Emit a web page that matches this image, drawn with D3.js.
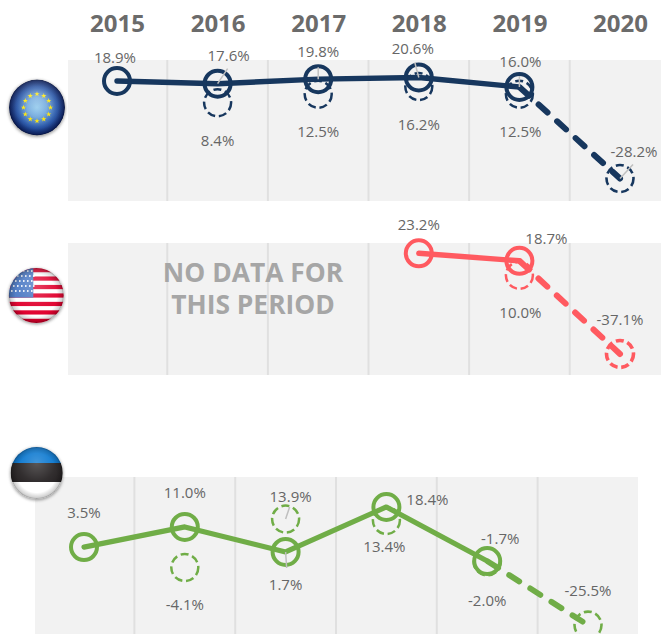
<!DOCTYPE html>
<html><head><meta charset="utf-8">
<script src="https://cdnjs.cloudflare.com/ajax/libs/d3/7.8.5/d3.min.js"></script>
<style>html,body{margin:0;padding:0;background:#fff;overflow:hidden}svg{display:block}text{font-family:"Open Sans",sans-serif}</style>
</head><body><svg id="c" width="661" height="634"></svg>
<script>
const years = ["2015","2016","2017","2018","2019","2020"];
const euActual = [18.9,17.6,19.8,20.6,16.0];
const euForecast = [null,8.4,12.5,16.2,12.5,-28.2];
const usActual = [null,null,null,23.2,18.7];
const usForecast = [null,null,null,null,10.0,-37.1];
const eeActual = [3.5,11.0,1.7,18.4,-1.7];
const eeForecast = [null,-4.1,13.9,13.4,-2.0,-25.5];
const noDataLines = ["NO DATA FOR","THIS PERIOD"];

// layout only: label offsets from each point [dx,dy], optional leader end [dx,dy]
const panels = [
 {actual:euActual,forecast:euForecast,color:"#17375e",sw:5.4,lastFw:2.6,left:68,right:661,top:60,bottom:201,x0:117,x1:620,domain:[-39.07,29.04],
  aLab:[[-2,-23],[11,-28],[0,-27],[-6,-28],[1,-25]],fLab:[null,[0,38],[0,38],[0,38],[1,38],[14,-26]],
  aLead:[null,[10,-15],[0,-12],[-4,-15],[0,-11]],fLead:[null,null,null,null,null,[13,-14]]},
 {actual:usActual,forecast:usForecast,color:"#ff5a60",sw:5.4,lastFw:3.6,left:68,right:661,top:243,bottom:375,x0:117,x1:620,domain:[-49.7,29.37],
  aLab:[null,null,null,[0,-28],[27,-22]],fLab:[null,null,null,null,[1,38],[0,-34]],aLead:[],fLead:[]},
 {actual:eeActual,forecast:eeForecast,color:"#70ad47",sw:5.2,lastFw:2.6,left:35,right:638,top:477,bottom:640,x0:84,x1:588,domain:[-31.04,29.55],
  aLab:[[0,-34],[0,-34],[0,33],[41,-7],[13,-22]],fLab:[null,[0,37],[5,-22],[-2,27],[0,39],[0,-34]],
  aLead:[null,null,[1,16],null,null],fLead:[null,null,[4,-12],null,null,null]}
];

const svg = d3.select("#c");
const defs = svg.append("defs");
const grad = (id,stops,cx=.5,cy=.5,r=.5)=>{const g=defs.append("radialGradient").attr("id",id).attr("cx",cx).attr("cy",cy).attr("r",r);
  stops.forEach(s=>g.append("stop").attr("offset",s[0]).attr("stop-color",s[1]).attr("stop-opacity",s[2]===undefined?1:s[2]));};
grad("euG",[[0,"#8fc8ec"],[.35,"#6ea6dc"],[.7,"#2a58a8"],[1,"#0b1f66"]]);
grad("shade",[[0,"#000",0],[.75,"#000",0],[.94,"#000",.18],[1,"#000",.42]]);
grad("gloss",[[0,"#fff",.25],[.6,"#fff",.07],[1,"#fff",0]],.5,.3,.6);
const blur=defs.append("filter").attr("id","sh").attr("x","-30%").attr("y","-30%").attr("width","160%").attr("height","160%");
blur.append("feGaussianBlur").attr("stdDeviation",1.6);

function flagBase(id,cx,cy,r){
  svg.append("circle").attr("cx",cx).attr("cy",cy+1).attr("r",r+.5).attr("fill","#555").attr("opacity",.55).attr("filter","url(#sh)");
  defs.append("clipPath").attr("id",id).append("circle").attr("cx",cx).attr("cy",cy).attr("r",r);
  return svg.append("g").attr("clip-path",`url(#${id})`);
}
function flagTop(g,cx,cy,r){
  g.append("circle").attr("cx",cx).attr("cy",cy).attr("r",r).attr("fill","url(#shade)");
  g.append("circle").attr("cx",cx).attr("cy",cy).attr("r",r).attr("fill","url(#gloss)");
}

panels.forEach(p=>{
  const x=d3.scalePoint().domain(years).range([p.x0,p.x1]);
  const y=d3.scaleLinear().domain(p.domain).range([p.bottom,p.top]);
  const step=x.step();
  const g=svg.append("g");
  g.append("rect").attr("x",p.left).attr("y",p.top).attr("width",p.right-p.left).attr("height",p.bottom-p.top).attr("fill","#f2f2f2");
  g.selectAll(".div").data(years.slice(0,5)).join("line")
    .attr("x1",d=>x(d)+step/2).attr("x2",d=>x(d)+step/2).attr("y1",p.top).attr("y2",p.bottom)
    .attr("stroke","#e0e0e0").attr("stroke-width",2);

  const A=p.actual.map((v,i)=>v==null?null:{v,i,yr:years[i]}).filter(Boolean);
  const F=p.forecast.map((v,i)=>v==null?null:{v,i,yr:years[i]}).filter(Boolean);
  const line=d3.line().x(d=>x(d.yr)).y(d=>y(d.v));

  const leaders=[...A.filter(d=>p.aLead[d.i]).map(d=>({d,o:p.aLead[d.i]})),...F.filter(d=>p.fLead[d.i]).map(d=>({d,o:p.fLead[d.i]}))];

  // forecast circles
  g.selectAll(".f").data(F).join("circle").attr("cx",d=>x(d.yr)).attr("cy",d=>y(d.v)).attr("r",13.5)
    .attr("fill","none").attr("stroke",p.color).attr("stroke-width",d=>d.i===5?p.lastFw:2.5).attr("stroke-dasharray","8 3.8");
  // solid path
  g.append("path").attr("d",line(A)).attr("fill","none").attr("stroke",p.color).attr("stroke-width",p.sw)
    .attr("stroke-linecap","round").attr("stroke-linejoin","round");
  // dashed path: last actual to last forecast
  const lastA=A[A.length-1], lastF=F[F.length-1];
  g.append("path").attr("d",line([lastA,lastF])).attr("fill","none").attr("stroke",p.color).attr("stroke-width",p.sw+.6)
    .attr("stroke-linecap","round").attr("stroke-dasharray","12 13").attr("stroke-dashoffset",-1);
  // actual circles
  g.selectAll(".a").data(A).join("circle").attr("cx",d=>x(d.yr)).attr("cy",d=>y(d.v)).attr("r",13)
    .attr("fill","none").attr("stroke",p.color).attr("stroke-width",4);
  g.selectAll(".l").data(leaders).join("line")
    .attr("x1",e=>x(e.d.yr)).attr("y1",e=>y(e.d.v)).attr("x2",e=>x(e.d.yr)+e.o[0]).attr("y2",e=>y(e.d.v)+e.o[1])
    .attr("stroke","#bfbfbf").attr("stroke-width",1.5);

  // labels
  const fmt=v=>v.toFixed(1)+"%";
  const labs=[...A.map(d=>({d,o:p.aLab[d.i]})),...F.map(d=>({d,o:p.fLab[d.i]}))];
  g.selectAll(".t").data(labs).join("text")
    .attr("x",e=>x(e.d.yr)+e.o[0]).attr("y",e=>y(e.d.v)+e.o[1]+5)
    .attr("text-anchor","middle").attr("font-size",15).attr("fill","#666").text(e=>fmt(e.d.v));
});

// year axis, drawn with the top panels' scale
const xTop=d3.scalePoint().domain(years).range([117,620]);
const ax=svg.append("g").attr("transform","translate(0,32)").call(d3.axisBottom(xTop).tickSize(0).tickPadding(0));
ax.select(".domain").remove();
ax.selectAll("text").attr("dy",0).attr("y",0).attr("font-family",'"Open Sans",sans-serif').attr("font-size",24).attr("font-weight",700).attr("fill","#6b6b6b");

// no-data note
svg.append("g").selectAll("text").data(noDataLines).join("text")
  .attr("x",253).attr("y",(d,i)=>282+i*32).attr("text-anchor","middle")
  .attr("font-size",26.4).attr("font-weight",700).attr("fill","#a6a6a6").text(d=>d);

// EU flag
{const cx=37,cy=107.5,r=28,g=flagBase("fEU",cx,cy,r);
 g.append("circle").attr("cx",cx).attr("cy",cy).attr("r",r).attr("fill","url(#euG)");
 g.selectAll("path").data(d3.range(12)).join("path").attr("d",d3.symbol(d3.symbolStar,9))
  .attr("transform",i=>`translate(${cx+13.5*Math.sin(i*Math.PI/6)},${cy-13.5*Math.cos(i*Math.PI/6)})`).attr("fill","#ffe600");
 flagTop(g,cx,cy,r);}
// US flag
{const cx=36.3,cy=295.5,r=27.5,g=flagBase("fUS",cx,cy,r),h=2*r/13;
 g.append("rect").attr("x",cx-r).attr("y",cy-r).attr("width",2*r).attr("height",2*r).attr("fill","#fff");
 g.selectAll(".s").data(d3.range(0,13,2)).join("rect").attr("x",cx-r).attr("y",i=>cy-r+i*h).attr("width",2*r).attr("height",h).attr("fill","#e0002d");
 g.append("rect").attr("x",cx-r).attr("y",cy-r).attr("width",r-3).attr("height",h*7).attr("fill","#4a78c4");
 const pts=d3.cross(d3.range(6),d3.range(5));
 g.selectAll(".st").data(pts).join("circle").attr("cx",d=>cx-r+3+d[0]*4+(d[1]%2?2:0)).attr("cy",d=>cy-r+3+d[1]*5).attr("r",.9).attr("fill","#fff");
 flagTop(g,cx,cy,r);}
// Estonia flag
{const cx=36.7,cy=473,r=26,g=flagBase("fEE",cx,cy,r);
 [["#0072ce",0],["#231f20",1],["#ffffff",2]].forEach(([c,i])=>g.append("rect").attr("x",cx-r).attr("y",[cy-r,463,482][i]).attr("width",2*r).attr("height",[17,19,20][i]).attr("fill",c));
 flagTop(g,cx,cy,r);}
</script></body></html>
